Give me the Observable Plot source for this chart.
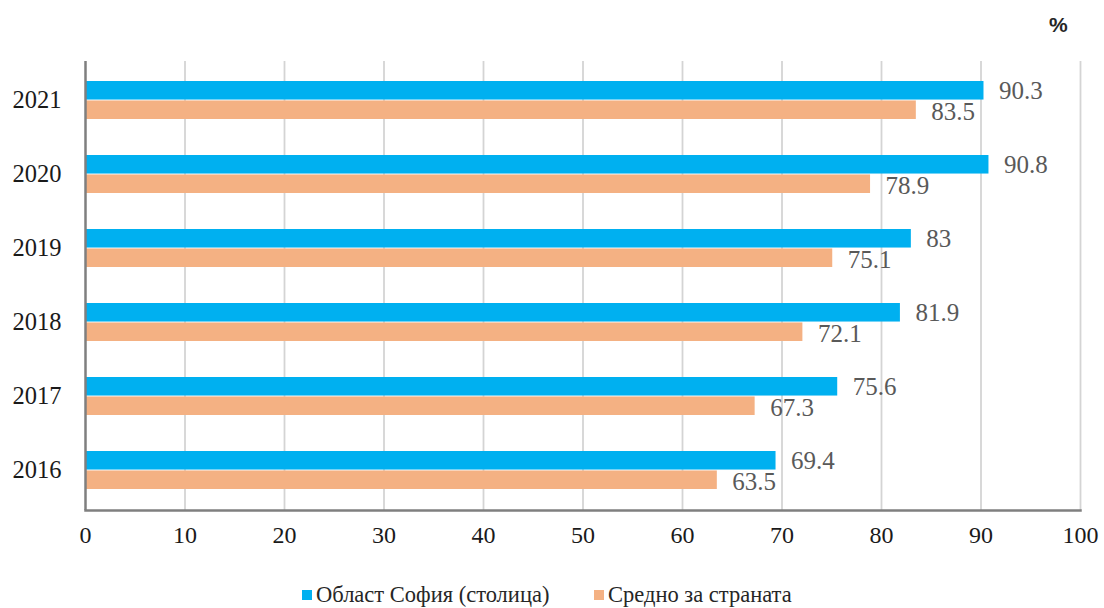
<!DOCTYPE html>
<html>
<head>
<meta charset="utf-8">
<script src="https://cdn.jsdelivr.net/npm/d3@7"></script>
<script src="https://cdn.jsdelivr.net/npm/@observablehq/plot@0.6"></script>
<style>
  html, body { margin: 0; padding: 0; background: #fff; }
  body { width: 1104px; height: 608px; position: relative; overflow: hidden; font-family: "Liberation Serif", "Times New Roman", serif; }
  #chart { position: absolute; left: 0; top: 0; z-index: 1; }
  #pct { position: absolute; left: 1049px; top: 13px; font-size: 21px; font-weight: bold; color: #262626; z-index: 2; font-family: "Liberation Sans", Arial, sans-serif; }
  .leg { position: absolute; top: 582px; font-size: 22.5px; color: #262626; display: flex; align-items: center; white-space: nowrap; z-index: 2; }
  .sw { width: 10px; height: 10px; display: inline-block; margin-right: 4px; }
</style>
</head>
<body>
<div id="pct">%</div>
<div id="chart"></div>
<div class="leg" style="left:302px"><span class="sw" style="background:#00B0F0"></span>Област София (столица)</div>
<div class="leg" style="left:594px"><span class="sw" style="background:#F4B183"></span>Средно за страната</div>
<script>
const years = ["2021", "2020", "2019", "2018", "2017", "2016"];
const sofia = [90.3, 90.8, 83, 81.9, 75.6, 69.4];
const country = [83.5, 78.9, 75.1, 72.1, 67.3, 63.5];
const xTicks = [0, 10, 20, 30, 40, 50, 60, 70, 80, 90, 100];
const seriesNames = ["Област София (столица)", "Средно за страната"];
const colors = ["#00B0F0", "#F4B183"];

const sofiaData = years.map((y, i) => ({year: y, value: sofia[i], series: seriesNames[0]}));
const countryData = years.map((y, i) => ({year: y, value: country[i], series: seriesNames[1]}));

const W = 1104, H = 570;
const mTop = 61, mBottom = 60;
const step = (H - mTop - mBottom) / years.length;
const half = step * 0.52 / 2;
const serif = "Liberation Serif, Times New Roman, serif";

const fmt = d => String(d);

const plot = Plot.plot({
  width: W,
  height: H,
  marginLeft: 85,
  marginRight: 24,
  marginTop: mTop,
  marginBottom: mBottom,
  style: {fontFamily: serif, background: "#fff"},
  x: {domain: [0, 100], axis: null},
  y: {domain: years, paddingInner: 0.48, paddingOuter: 0.24, axis: null},
  color: {domain: seriesNames, range: colors},
  marks: [
    Plot.ruleX(xTicks.filter(d => d > 0), {stroke: "#d4d4d4", strokeWidth: 1.8}),
    Plot.barX(sofiaData, {x: "value", y: "year", fill: "series", insetBottom: half}),
    Plot.barX(countryData, {x: "value", y: "year", fill: "series", insetTop: half}),
    Plot.text(sofiaData, {x: "value", y: "year", text: d => fmt(d.value), dx: 15, dy: -10, textAnchor: "start", fill: "#595959", fontSize: 25}),
    Plot.text(countryData, {x: "value", y: "year", text: d => fmt(d.value), dx: 15, dy: 11, textAnchor: "start", fill: "#595959", fontSize: 25}),
    Plot.ruleX([0], {stroke: "#7f7f7f", strokeWidth: 2.5}),
    Plot.frame({anchor: "bottom", stroke: "#7f7f7f", strokeWidth: 2.5}),
    Plot.text(xTicks, {x: d => d, text: d => String(d), frameAnchor: "bottom", dy: 32, fontSize: 24, fill: "#1a1a1a"}),
    Plot.text(years, {y: d => d, text: d => d, frameAnchor: "left", dx: -24, textAnchor: "end", fontSize: 24.5, fill: "#1a1a1a"})
  ]
});
document.getElementById("chart").appendChild(plot);
</script>
</body>
</html>
